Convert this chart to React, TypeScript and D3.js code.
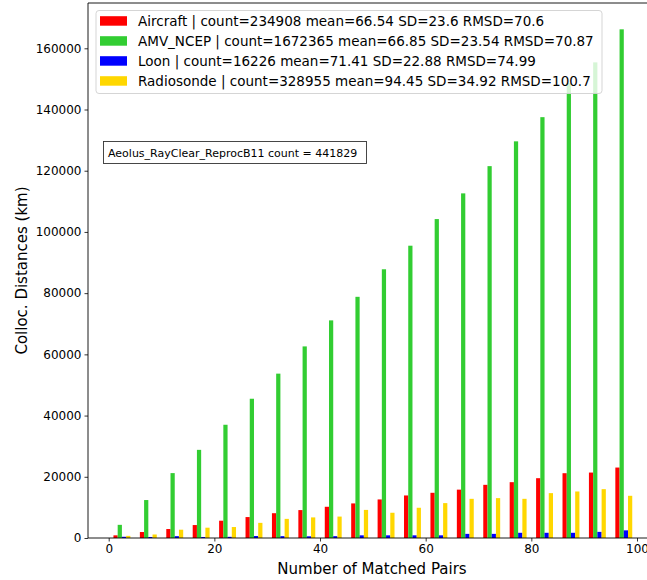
import React, { useEffect, useRef } from 'react';
import * as d3 from 'd3';

// bin centres of matched-pair counts
const binCenters = [2.5, 7.5, 12.5, 17.5, 22.5, 27.5, 32.5, 37.5, 42.5, 47.5, 52.5, 57.5, 62.5, 67.5, 72.5, 77.5, 82.5, 87.5, 92.5, 97.5];

const aircraft = [870, 1950, 2930, 4230, 5650, 6840, 8100, 9120, 10200, 11300, 12600, 13900, 14770, 15800, 17370, 18240, 19540, 21170, 21380, 23020];
const amvNcep = [4300, 12400, 21200, 28800, 37000, 45500, 53700, 62600, 71100, 78800, 87800, 95500, 104200, 112600, 121500, 129600, 137500, 148600, 155400, 166200];
const loon = [400, 330, 600, 330, 380, 650, 600, 550, 600, 870, 870, 870, 870, 1350, 1350, 1700, 1700, 1700, 2000, 2500];
const radiosonde = [700, 1150, 2710, 3370, 3580, 4950, 6250, 6730, 7000, 9180, 8250, 9880, 11400, 12800, 13030, 12800, 14660, 15200, 15960, 13790];

const seriesNames = ['Aircraft', 'AMV_NCEP', 'Loon', 'Radiosonde'];
const seriesColors = ['#ff0000', '#32cd32', '#0000ff', '#ffd700'];
const legendLabels = [
  'Aircraft | count=234908 mean=66.54 SD=23.6 RMSD=70.6',
  'AMV_NCEP | count=1672365 mean=66.85 SD=23.54 RMSD=70.87',
  'Loon | count=16226 mean=71.41 SD=22.88 RMSD=74.99',
  'Radiosonde | count=328955 mean=94.45 SD=34.92 RMSD=100.7',
];
const annotation = 'Aeolus_RayClear_ReprocB11 count = 441829';
const xTicks = [0, 20, 40, 60, 80, 100];
const yTicks = [0, 20000, 40000, 60000, 80000, 100000, 120000, 140000, 160000];

const W = 647;
const H = 580;
const font = '"DejaVu Sans", sans-serif';

const App: React.FC = () => {
  const svgRef = useRef<SVGSVGElement>(null);

  useEffect(() => {
    if (!svgRef.current) return;
    const svg = d3.select(svgRef.current);
    svg.selectAll('*').remove();

    // plot area runs past the right edge of the picture (cropped figure)
    const left = 88, right = W + 20, top = 3, bottom = 538;
    const x = d3.scaleLinear().domain([0, 100]).range([108.7, 637]);
    const y = d3.scaleLinear().domain([0, 174800]).range([bottom, top]);

    const series = [aircraft, amvNcep, loon, radiosonde];
    const offsets = [-1.2, -0.4, 0.4, 1.2];
    const bw = 0.8;

    const bars = svg.append('g');
    series.forEach((vals, si) => {
      bars.selectAll(null)
        .data(vals)
        .join('rect')
        .attr('x', (d, i) => x(binCenters[i] + offsets[si] - bw / 2))
        .attr('width', x(bw) - x(0))
        .attr('y', d => y(d))
        .attr('height', d => y(0) - y(d))
        .attr('fill', seriesColors[si]);
    });

    // spines (no right one in view)
    const spines = svg.append('g').attr('stroke', '#000').attr('stroke-width', 0.9);
    spines.append('line').attr('x1', left).attr('x2', right).attr('y1', top).attr('y2', top);
    spines.append('line').attr('x1', left).attr('x2', right).attr('y1', bottom).attr('y2', bottom);
    spines.append('line').attr('x1', left).attr('x2', left).attr('y1', top).attr('y2', bottom);

    // x axis
    const xAxis = svg.append('g')
      .attr('transform', `translate(0,${bottom})`)
      .call(d3.axisBottom(x).tickValues(xTicks).tickSize(3.5).tickPadding(3).tickFormat(d3.format('d')));
    xAxis.select('.domain').remove();
    xAxis.selectAll('text').attr('font-size', 12).attr('font-family', font).attr('fill', '#000');
    xAxis.selectAll('line').attr('stroke-width', 0.8);

    const yAxis = svg.append('g')
      .attr('transform', `translate(${left},0)`)
      .call(d3.axisLeft(y).tickValues(yTicks).tickSize(3.5).tickPadding(3).tickFormat(d3.format('d')));
    yAxis.select('.domain').remove();
    yAxis.selectAll('text').attr('font-size', 12).attr('font-family', font).attr('fill', '#000');
    yAxis.selectAll('line').attr('stroke-width', 0.8);

    svg.append('text')
      .attr('x', 372).attr('y', 574)
      .attr('text-anchor', 'middle')
      .attr('font-family', font).attr('font-size', 15)
      .text('Number of Matched Pairs');

    svg.append('text')
      .attr('transform', `translate(27,${(top + bottom) / 2}) rotate(-90)`)
      .attr('text-anchor', 'middle')
      .attr('font-family', font).attr('font-size', 15)
      .text('Colloc. Distances (km)');

    // annotation box
    const ann = svg.append('g');
    ann.append('rect')
      .attr('x', 103.5).attr('y', 141.5).attr('width', 263).attr('height', 22)
      .attr('fill', '#fff').attr('stroke', '#333').attr('stroke-width', 0.9);
    ann.append('text')
      .attr('x', 108).attr('y', 156.5)
      .attr('font-family', font).attr('font-size', 11)
      .text(annotation);

    // legend
    const lg = svg.append('g');
    lg.append('rect')
      .attr('x', 96).attr('y', 10.5).attr('width', 506).attr('height', 83)
      .attr('rx', 3)
      .attr('fill', 'rgba(255,255,255,0.8)').attr('stroke', '#d0d0d0').attr('stroke-width', 0.9);
    seriesNames.forEach((n, i) => {
      const cy = 20.7 + i * 20;
      lg.append('rect')
        .attr('x', 100).attr('y', cy - 4.5).attr('width', 27).attr('height', 9.5)
        .attr('fill', seriesColors[i]);
      lg.append('text')
        .attr('x', 138).attr('y', cy + 5)
        .attr('font-family', font).attr('font-size', 13.5)
        .text(legendLabels[i]);
    });
  }, []);

  return (
    <svg
      ref={svgRef}
      width={W}
      height={H}
      style={{ position: 'absolute', left: 0, top: 0, display: 'block', background: '#fff' }}
    />
  );
};

export default App;
